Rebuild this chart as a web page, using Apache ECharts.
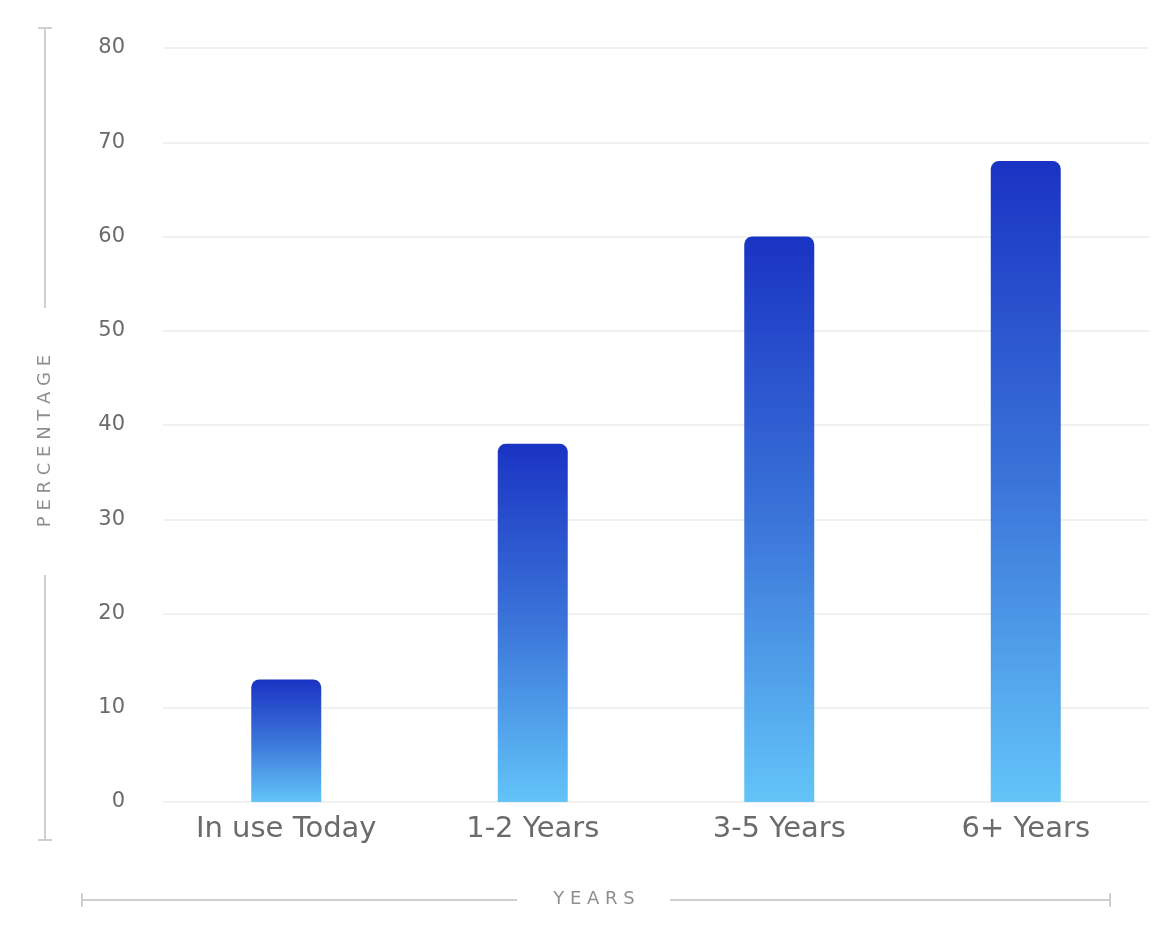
<!DOCTYPE html>
<html>
<head>
<meta charset="utf-8">
<title>Percentage by years</title>
<script src="https://cdn.jsdelivr.net/npm/echarts@6/dist/echarts.min.js"></script>
<style>
html,body{margin:0;padding:0;background:#fff;}
#chart{width:1172px;height:948px;}
</style>
</head>
<body>
<div id="chart"></div>
<script>
// data
const categories = ["In use Today", "1-2 Years", "3-5 Years", "6+ Years"];
const values = [13, 38, 60, 68];
const yTicks = [0, 10, 20, 30, 40, 50, 60, 70, 80];

const chart = echarts.init(document.getElementById("chart"));

const lineColor = "#cfcfcf";
const txtColor = "#6b6b6b";
const font = "DejaVu Sans";

chart.setOption({
  animation: false,
  grid: {
    left: 163,
    right: 23,
    top: 48,
    bottom: 146
  },
  xAxis: {
    type: "category",
    data: categories,
    axisLine: { show: false },
    axisTick: { show: false },
    axisLabel: {
      color: txtColor,
      fontSize: 29,
      fontFamily: font,
      margin: 13
    }
  },
  yAxis: {
    type: "value",
    min: yTicks[0],
    max: yTicks[yTicks.length - 1],
    interval: 10,
    axisLine: { show: false },
    axisTick: { show: false },
    axisLabel: {
      color: txtColor,
      fontSize: 21,
      fontFamily: font,
      margin: 38
    },
    splitLine: {
      lineStyle: { color: "#f1f1f1", width: 2 }
    }
  },
  series: [{
    type: "bar",
    data: values,
    barWidth: 70,
    itemStyle: {
      borderRadius: [8, 8, 0, 0],
      color: new echarts.graphic.LinearGradient(0, 0, 0, 1, [
        { offset: 0, color: "#1a33c3" },
        { offset: 0.5, color: "#3b74d9" },
        { offset: 1, color: "#63c4f8" }
      ])
    }
  }],

  // axis brackets
  graphic: [
    { type: "line", shape: { x1: 45, y1: 28, x2: 45, y2: 308 }, style: { stroke: lineColor, lineWidth: 2 } },
    { type: "line", shape: { x1: 38, y1: 28, x2: 52, y2: 28 }, style: { stroke: lineColor, lineWidth: 2 } },
    { type: "line", shape: { x1: 45, y1: 575, x2: 45, y2: 840 }, style: { stroke: lineColor, lineWidth: 2 } },
    { type: "line", shape: { x1: 38, y1: 840, x2: 52, y2: 840 }, style: { stroke: lineColor, lineWidth: 2 } },
    {
      type: "text",
      x: 45, y: 441,
      rotation: Math.PI / 2,
      style: {
        text: "P E R C E N T A G E",
        fill: "#8f8f8f",
        fontSize: 18,
        fontFamily: font,
        align: "center",
        verticalAlign: "middle"
      }
    },
    { type: "line", shape: { x1: 82, y1: 900, x2: 517, y2: 900 }, style: { stroke: lineColor, lineWidth: 2 } },
    { type: "line", shape: { x1: 82, y1: 893, x2: 82, y2: 907 }, style: { stroke: lineColor, lineWidth: 2 } },
    { type: "line", shape: { x1: 670, y1: 900, x2: 1110, y2: 900 }, style: { stroke: lineColor, lineWidth: 2 } },
    { type: "line", shape: { x1: 1110, y1: 893, x2: 1110, y2: 907 }, style: { stroke: lineColor, lineWidth: 2 } },
    {
      type: "text",
      x: 594, y: 899,
      style: {
        text: "Y E A R S",
        fill: "#8f8f8f",
        fontSize: 18,
        fontFamily: font,
        align: "center",
        verticalAlign: "middle"
      }
    }
  ]
});

window.addEventListener("resize", () => chart.resize());
</script>
</body>
</html>
